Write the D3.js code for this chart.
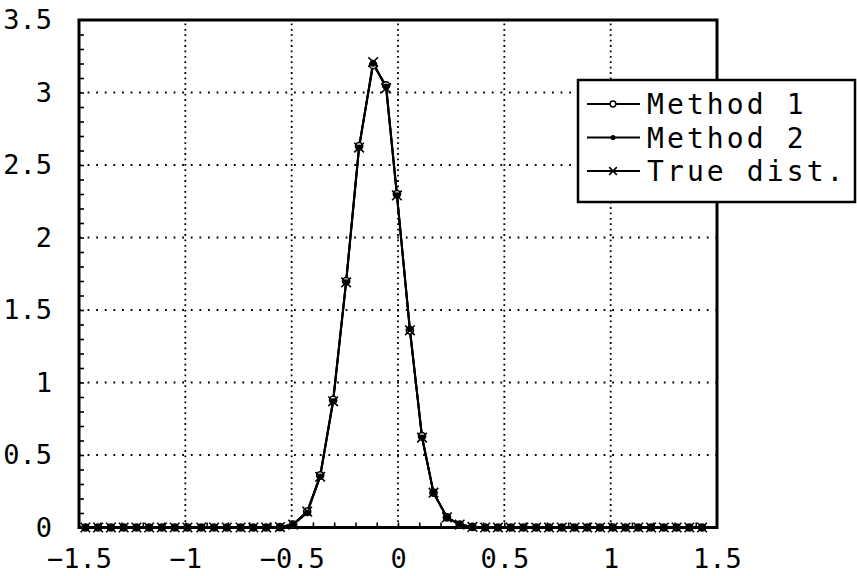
<!DOCTYPE html>
<html>
<head>
<meta charset="utf-8">
<script src="https://cdn.jsdelivr.net/npm/d3@7"></script>
<style>
  html, body { margin: 0; padding: 0; background: #fff; }
  svg { display: block; }
  text { font-family: "DejaVu Sans Mono", "Liberation Mono", monospace; fill: #000; }
</style>
</head>
<body>
<svg id="chart" width="857" height="576"></svg>
<script>
// ---- data ----
const xValues = [-1.47, -1.41, -1.35, -1.29, -1.23, -1.17, -1.11, -1.05, -0.99, -0.925, -0.865, -0.805, -0.74, -0.68, -0.62, -0.555,
  -0.493, -0.427, -0.366, -0.305, -0.244, -0.183, -0.117, -0.056, -0.005, 0.056, 0.113, 0.167, 0.23, 0.29,
  0.35, 0.41, 0.47, 0.53, 0.59, 0.65, 0.71, 0.77, 0.83, 0.89, 0.95, 1.01, 1.07, 1.13, 1.19, 1.25, 1.31, 1.37, 1.43];
const method1 = [0, 0, 0, 0, 0, 0, 0, 0, 0, 0, 0, 0, 0, 0, 0, 0.003,
  0.02, 0.11, 0.36, 0.88, 1.70, 2.63, 3.19, 3.05, 2.30, 1.36, 0.63, 0.24, 0.07, 0.02,
  0.004, 0, 0, 0, 0, 0, 0, 0, 0, 0, 0, 0, 0, 0, 0, 0, 0, 0, 0];
const method2 = [0, 0, 0, 0, 0, 0, 0, 0, 0, 0, 0, 0, 0, 0, 0, 0.003,
  0.02, 0.10, 0.35, 0.87, 1.69, 2.62, 3.20, 3.04, 2.29, 1.37, 0.62, 0.24, 0.07, 0.02,
  0.004, 0, 0, 0, 0, 0, 0, 0, 0, 0, 0, 0, 0, 0, 0, 0, 0, 0, 0];
const trueDist = [0, 0, 0, 0, 0, 0, 0, 0, 0, 0, 0, 0, 0, 0, 0, 0.003,
  0.02, 0.11, 0.35, 0.87, 1.69, 2.62, 3.21, 3.03, 2.29, 1.36, 0.62, 0.24, 0.07, 0.02,
  0.004, 0, 0, 0, 0, 0, 0, 0, 0, 0, 0, 0, 0, 0, 0, 0, 0, 0, 0];
const seriesNames = ["Method 1", "Method 2", "True dist."];
const xTicks = [-1.5, -1, -0.5, 0, 0.5, 1, 1.5];
const yTicks = [0, 0.5, 1, 1.5, 2, 2.5, 3, 3.5];
const xGrid = [-1, -0.5, 0, 0.5, 1];
const yGrid = [0.5, 1, 1.5, 2, 2.5, 3];
const xMinor = [-1.4, -1.3, -1.2, -1.1, -1.0, -0.9, -0.8, -0.7, -0.6, -0.5, -0.4, -0.3, -0.2, -0.1, 0, 0.1, 0.2, 0.3, 0.4, 0.5, 0.6, 0.7, 0.8, 0.9, 1.0, 1.1, 1.2, 1.3, 1.4];
const yMinor = [0.1, 0.2, 0.3, 0.4, 0.5, 0.6, 0.7, 0.8, 0.9, 1.0, 1.1, 1.2, 1.3, 1.4, 1.5, 1.6, 1.7, 1.8, 1.9, 2.0, 2.1, 2.2, 2.3, 2.4, 2.5, 2.6, 2.7, 2.8, 2.9, 3.0, 3.1, 3.2, 3.3, 3.4];

// ---- layout ----
const L = 79, R = 717, T = 20, B = 527.5;
const svg = d3.select("#chart");
const x = d3.scaleLinear().domain([-1.5, 1.5]).range([L, R]);
const y = d3.scaleLinear().domain([0, 3.5]).range([B, T]);

// grid (dotted)
svg.append("g").selectAll("line").data(yGrid).join("line")
  .attr("x1", L).attr("x2", R).attr("y1", d => y(d)).attr("y2", d => y(d))
  .attr("stroke", "#000").attr("stroke-width", 1.8).attr("stroke-dasharray", "1.8,6.8");
svg.append("g").selectAll("line").data(xGrid).join("line")
  .attr("y1", B).attr("y2", T).attr("x1", d => x(d)).attr("x2", d => x(d))
  .attr("stroke", "#000").attr("stroke-width", 1.8).attr("stroke-dasharray", "1.8,3.6");

// minor ticks (inward)
svg.append("g").attr("transform", `translate(${L},0)`)
  .call(d3.axisLeft(y).tickValues(yMinor).tickSize(-5).tickFormat(""))
  .call(g => g.select(".domain").remove())
  .call(g => g.selectAll("line").attr("stroke-width", 1.6));
svg.append("g").attr("transform", `translate(0,${B})`)
  .call(d3.axisBottom(x).tickValues(xMinor).tickSize(-5).tickFormat(""))
  .call(g => g.select(".domain").remove())
  .call(g => g.selectAll("line").attr("stroke-width", 1.6));

// tick labels
const yAx = svg.append("g").attr("transform", `translate(${L},0)`)
  .call(d3.axisLeft(y).tickValues(yTicks).tickSize(0).tickPadding(27).tickFormat(d3.format("")));
yAx.select(".domain").remove();
yAx.selectAll("text").attr("font-size", 27).attr("font-family", "DejaVu Sans Mono");
const xAx = svg.append("g").attr("transform", `translate(0,${B})`)
  .call(d3.axisBottom(x).tickValues(xTicks).tickSize(0).tickPadding(21).tickFormat(d3.format("")));
xAx.select(".domain").remove();
xAx.selectAll("text").attr("font-size", 27).attr("font-family", "DejaVu Sans Mono");

// frame
svg.append("rect").attr("x", L).attr("y", T).attr("width", R - L).attr("height", B - T)
  .attr("fill", "none").attr("stroke", "#000").attr("stroke-width", 3);

// series
const allSeries = [method1, method2, trueDist];
const line = d3.line().x(d => x(d[0])).y(d => y(d[1]));
allSeries.forEach((vals, i) => {
  const pts = xValues.map((xv, j) => [xv, vals[j]]);
  svg.append("path").datum(pts).attr("d", line)
    .attr("fill", "none").attr("stroke", "#000").attr("stroke-width", 2);
});

function drawMarker(g, kind, cx, cy, scale) {
  const k = scale || 1;
  if (kind === 0) {
    g.append("circle").attr("cx", cx).attr("cy", cy).attr("r", 3.6 * k)
      .attr("fill", "#fff").attr("stroke", "#000").attr("stroke-width", 1.5);
  } else if (kind === 1) {
    g.append("circle").attr("cx", cx).attr("cy", cy).attr("r", 3.2 * k).attr("fill", "#000");
  } else {
    const s = 4.8 * k;
    g.append("path").attr("d", `M${cx - s},${cy - s}L${cx + s},${cy + s}M${cx - s},${cy + s}L${cx + s},${cy - s}`)
      .attr("stroke", "#000").attr("stroke-width", 1.6);
  }
}
const mg = svg.append("g");
allSeries.forEach((vals, i) => {
  xValues.forEach((xv, j) => drawMarker(mg, i, x(xv), y(vals[j])));
});

// legend
const lg = svg.append("g");
lg.append("rect").attr("x", 578).attr("y", 80).attr("width", 277).attr("height", 122)
  .attr("fill", "#fff").attr("stroke", "#000").attr("stroke-width", 2.5);
seriesNames.forEach((name, i) => {
  const ly = 104 + i * 33.5;
  lg.append("line").attr("x1", 587).attr("x2", 640).attr("y1", ly).attr("y2", ly)
    .attr("stroke", "#000").attr("stroke-width", 1.8);
  drawMarker(lg, i, 613, ly, 0.8);
  lg.append("text").attr("x", 647).attr("y", ly).attr("dy", "0.36em")
    .attr("font-size", 28).attr("letter-spacing", 3.1).text(name);
});
</script>
</body>
</html>
